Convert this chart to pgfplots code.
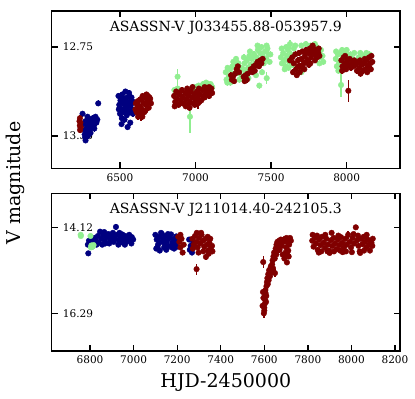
\documentclass[border=0pt]{standalone}
\usepackage{fontspec}
\setmainfont{DejaVu Serif}
\usepackage{pgfplots}
\usepackage{pgfplotstable}
\pgfplotsset{compat=1.18}

\definecolor{cnavy}{RGB}{0,0,128}
\definecolor{cred}{RGB}{128,0,0}
\definecolor{cgreen}{RGB}{144,238,144}

% ---- top panel: ASASSN-V J033455.88-053957.9 ----
\pgfplotstableread{
x y e
6232 13.25 0.02
6234 13.28 0.02
6236 13.31 0.02
6238 13.26 0.02
6240 13.29 0.02
6235 13.23 0.02
6605 13.13 0.02
6610 13.19 0.02
6615 13.16 0.02
6620 13.22 0.02
6625 13.11 0.02
6630 13.15 0.02
6635 13.20 0.02
6640 13.10 0.02
6645 13.17 0.02
6650 13.08 0.02
6655 13.13 0.02
6660 13.19 0.02
6665 13.09 0.02
6670 13.14 0.02
6675 13.07 0.02
6680 13.11 0.02
6685 13.08 0.02
6690 13.12 0.02
6695 13.09 0.02
6700 13.10 0.02
6638 13.21 0.04
6622 13.18 0.02
6612 13.12 0.02
6628 13.21 0.02
6648 13.22 0.02
6668 13.18 0.02
6690 13.16 0.02
6705 13.13 0.02
6602 13.17 0.02
6858 13.08 0.02
6865 13.12 0.02
6872 13.05 0.02
6880 13.10 0.02
6888 13.14 0.02
6895 13.07 0.02
6902 13.11 0.02
6910 13.04 0.02
6918 13.09 0.02
6925 13.13 0.02
6932 13.06 0.02
6940 13.10 0.02
6948 13.14 0.02
6955 13.08 0.02
6962 13.12 0.02
6970 13.05 0.02
6978 13.09 0.02
6985 13.13 0.02
6992 13.07 0.02
7000 13.11 0.02
7008 13.05 0.02
7015 13.09 0.02
7022 13.03 0.02
7030 13.07 0.02
7038 13.11 0.02
7045 13.04 0.02
7052 13.08 0.02
7060 13.02 0.02
7068 13.06 0.02
7075 13.03 0.02
7082 13.07 0.02
7090 13.02 0.02
7098 13.05 0.02
7105 13.03 0.02
6945 13.03 0.02
7016 13.13 0.04
6862 13.15 0.02
6885 13.06 0.02
6915 13.13 0.02
6935 13.15 0.02
6960 13.16 0.02
6995 13.14 0.02
7025 13.12 0.02
7060 13.09 0.02
7090 13.08 0.02
7110 13.06 0.02
6950 13.06 0.02
6980 13.02 0.02
7235 12.94 0.02
7240 12.97 0.02
7248 12.95 0.02
7255 12.98 0.02
7262 12.93 0.02
7272 12.90 0.02
7280 12.88 0.02
7288 12.92 0.02
7318 12.95 0.02
7325 12.98 0.02
7332 12.94 0.02
7340 12.97 0.02
7345 12.93 0.02
7365 12.90 0.02
7375 12.92 0.02
7385 12.88 0.02
7392 12.91 0.02
7400 12.87 0.02
7410 12.85 0.02
7420 12.88 0.02
7428 12.84 0.02
7436 12.86 0.02
7444 12.83 0.02
7625 12.84 0.02
7640 12.82 0.02
7650 12.86 0.02
7660 12.80 0.02
7665 12.90 0.02
7670 12.94 0.02
7678 12.84 0.02
7685 12.79 0.02
7692 12.88 0.02
7700 12.83 0.02
7708 12.78 0.02
7716 12.86 0.02
7724 12.81 0.02
7732 12.77 0.02
7740 12.84 0.02
7748 12.79 0.02
7756 12.76 0.02
7764 12.82 0.02
7772 12.78 0.02
7780 12.76 0.02
7788 12.80 0.02
7796 12.77 0.02
7804 12.82 0.02
7812 12.79 0.02
7820 12.81 0.02
7690 12.92 0.02
7710 12.89 0.02
7750 12.87 0.02
7645 12.92 0.02
7680 12.88 0.02
7720 12.90 0.02
7760 12.86 0.02
7790 12.84 0.02
7815 12.76 0.02
7775 12.74 0.02
7730 12.85 0.02
7965 12.84 0.02
7972 12.88 0.02
7980 12.82 0.02
7988 12.86 0.02
7996 12.90 0.02
8004 12.84 0.02
8012 12.87 0.02
8020 12.83 0.02
8028 12.89 0.02
8036 12.86 0.02
8044 12.88 0.02
8060 12.87 0.02
8068 12.91 0.02
8076 12.85 0.02
8084 12.89 0.02
8092 12.93 0.02
8100 12.87 0.02
8108 12.91 0.02
8116 12.86 0.02
8124 12.90 0.02
8132 12.84 0.02
8140 12.88 0.02
8148 12.82 0.02
8156 12.86 0.02
8164 12.81 0.02
8170 12.85 0.02
7970 12.91 0.02
7990 12.81 0.02
8050 12.84 0.02
8088 12.84 0.02
8120 12.83 0.02
8160 12.90 0.02
8136 12.92 0.02
8011 13.045 0.075
}\topred

\pgfplotstableread{
x y e
6240 13.30 0.02
6266 13.34 0.02
6252 13.20 0.02
6258 13.27 0.02
6270 13.36 0.02
6268 13.31 0.02
6272 13.25 0.02
6278 13.33 0.02
6283 13.29 0.02
6288 13.35 0.02
6293 13.27 0.02
6298 13.31 0.02
6303 13.24 0.02
6308 13.29 0.02
6314 13.26 0.02
6320 13.23 0.02
6326 13.28 0.02
6332 13.25 0.02
6338 13.22 0.02
6344 13.26 0.02
6350 13.24 0.02
6356 13.13 0.02
6272 13.38 0.02
6285 13.22 0.02
6305 13.33 0.02
6330 13.30 0.02
6490 13.08 0.02
6495 13.14 0.02
6500 13.20 0.02
6503 13.11 0.02
6508 13.17 0.02
6512 13.23 0.02
6515 13.07 0.02
6520 13.13 0.02
6524 13.19 0.02
6528 13.10 0.02
6532 13.16 0.02
6536 13.05 0.02
6540 13.12 0.02
6545 13.21 0.02
6548 13.09 0.02
6552 13.15 0.02
6556 13.18 0.02
6560 13.06 0.02
6564 13.12 0.02
6568 13.26 0.02
6572 13.14 0.02
6576 13.09 0.02
6580 13.17 0.02
6585 13.20 0.02
6550 13.29 0.02
6510 13.27 0.02
6530 13.24 0.02
6492 13.17 0.02
6518 13.10 0.02
6542 13.16 0.02
6566 13.19 0.02
6588 13.12 0.02
}\topblue

\pgfplotstableread{
x y e
6881 12.95 0.05
6881 13.03 0.05
6963 13.22 0.11
6860 13.04 0.02
6875 13.06 0.02
6990 13.04 0.02
7020 13.01 0.02
7050 13.00 0.02
7070 12.99 0.02
7085 13.00 0.02
7100 13.00 0.02
7110 13.02 0.02
7040 13.03 0.02
6870 13.12 0.02
6900 13.13 0.02
7000 13.02 0.02
7200 12.92 0.02
7205 12.97 0.02
7212 12.89 0.02
7220 12.95 0.02
7228 12.90 0.02
7236 12.96 0.02
7244 12.88 0.02
7252 12.93 0.02
7260 12.87 0.02
7268 12.83 0.02
7276 12.91 0.02
7284 12.86 0.02
7292 12.93 0.02
7300 12.89 0.02
7308 12.95 0.02
7316 12.90 0.02
7324 12.86 0.02
7332 12.92 0.02
7340 12.84 0.02
7348 12.89 0.02
7356 12.81 0.02
7364 12.87 0.02
7372 12.83 0.02
7380 12.90 0.02
7388 12.80 0.02
7396 12.86 0.02
7404 12.82 0.02
7412 12.77 0.02
7420 12.84 0.02
7428 12.79 0.02
7436 12.75 0.02
7444 12.81 0.02
7452 12.86 0.02
7460 12.78 0.02
7468 12.83 0.02
7476 12.76 0.02
7484 12.80 0.02
7490 12.85 0.02
7422 13.01 0.02
7471 12.96 0.04
7230 12.99 0.02
7290 12.97 0.02
7210 12.99 0.02
7250 12.85 0.02
7320 12.82 0.02
7360 12.78 0.02
7410 12.74 0.02
7440 12.92 0.02
7470 12.74 0.02
7495 12.80 0.02
7350 12.96 0.02
7400 12.94 0.02
7565 12.82 0.02
7572 12.86 0.02
7580 12.79 0.02
7588 12.84 0.02
7596 12.88 0.02
7604 12.81 0.02
7612 12.77 0.02
7620 12.85 0.02
7625 12.73 0.03
7632 12.80 0.02
7640 12.87 0.02
7650 12.76 0.02
7700 12.74 0.02
7760 12.74 0.02
7800 12.75 0.02
7830 12.77 0.02
7840 12.81 0.02
7820 12.86 0.02
7700 12.92 0.02
7570 12.76 0.02
7590 12.90 0.02
7615 12.89 0.02
7660 12.74 0.02
7730 12.73 0.02
7790 12.73 0.02
7845 12.85 0.02
7600 12.75 0.02
7830 12.82 0.02
7928 12.83 0.02
7935 12.88 0.02
7942 12.80 0.02
7950 12.85 0.02
7958 12.79 0.02
7966 12.90 0.02
7975 12.82 0.02
7985 12.78 0.02
7995 12.84 0.02
8005 12.81 0.02
8015 12.86 0.02
8025 12.80 0.02
8040 12.83 0.02
8060 12.85 0.02
8080 12.82 0.02
8100 12.84 0.02
8115 12.81 0.02
7930 12.78 0.02
7945 12.91 0.02
7970 12.77 0.02
8000 12.77 0.02
8050 12.79 0.02
8090 12.79 0.02
8130 12.79 0.02
8150 12.80 0.02
7963 13.006 0.08
}\topgreen

% ---- bottom panel: ASASSN-V J211014.40-242105.3 ----
\pgfplotstableread{
x y e
6757 14.30 0.04
6758 14.33 0.04
6802 14.33 0.04
6806 14.57 0.04
6812 14.60 0.04
6816 14.56 0.04
6804 14.62 0.04
}\botgreen

\pgfplotstableread{
x y e
6790 14.55 0.05
6795 14.45 0.05
6800 14.50 0.05
6805 14.40 0.05
6812 14.48 0.05
6820 14.38 0.05
6828 14.45 0.05
6836 14.33 0.05
6846 14.22 0.05
6852 14.40 0.05
6860 14.30 0.05
6868 14.46 0.05
6876 14.36 0.05
6884 14.28 0.05
6892 14.42 0.05
6900 14.34 0.05
6908 14.48 0.05
6914 14.38 0.05
6919 14.10 0.08
6924 14.30 0.05
6932 14.44 0.05
6940 14.35 0.05
6948 14.29 0.05
6955 14.42 0.05
6962 14.33 0.05
6970 14.47 0.05
6978 14.38 0.05
6985 14.44 0.05
6992 14.36 0.05
6998 14.42 0.05
6792 14.77 0.05
6830 14.55 0.05
6870 14.52 0.05
6950 14.50 0.05
6980 14.30 0.05
6810 14.60 0.05
6840 14.50 0.05
6856 14.55 0.05
6888 14.52 0.05
6905 14.25 0.05
6930 14.55 0.05
6960 14.55 0.05
6990 14.52 0.05
6935 14.25 0.05
6865 14.23 0.05
7100 14.30 0.05
7106 14.42 0.05
7112 14.55 0.05
7118 14.35 0.05
7124 14.48 0.05
7130 14.28 0.05
7136 14.40 0.05
7142 14.52 0.05
7148 14.33 0.05
7154 14.45 0.05
7160 14.58 0.05
7166 14.38 0.05
7172 14.29 0.05
7178 14.50 0.05
7184 14.41 0.05
7190 14.55 0.05
7196 14.34 0.05
7202 14.46 0.05
7110 14.62 0.05
7150 14.68 0.05
7175 14.62 0.05
7104 14.65 0.05
7126 14.25 0.05
7140 14.62 0.05
7158 14.28 0.05
7186 14.65 0.05
7200 14.60 0.05
7120 14.70 0.05
7255 14.42 0.05
7262 14.58 0.05
7268 14.75 0.05
7274 14.50 0.05
7258 14.68 0.05
}\botblue

\pgfplotstableread{
x y e
7205 14.35 0.05
7210 14.48 0.05
7215 14.62 0.05
7220 14.40 0.05
7225 14.75 0.05
7230 14.55 0.05
7215 14.30 0.05
7270 14.40 0.05
7276 14.55 0.05
7282 14.33 0.05
7288 14.48 0.05
7294 14.62 0.05
7300 14.38 0.05
7306 14.52 0.05
7312 14.30 0.05
7318 14.45 0.05
7324 14.60 0.05
7330 14.40 0.05
7336 14.55 0.05
7342 14.70 0.05
7348 14.50 0.05
7354 14.64 0.05
7360 14.58 0.05
7290 14.25 0.05
7310 14.25 0.05
7332 14.86 0.07
7289 15.17 0.14
7345 14.78 0.05
7272 14.65 0.05
7298 14.75 0.05
7320 14.72 0.05
7352 14.40 0.05
7362 14.72 0.05
7340 14.35 0.05
7598 16.29 0.12
7600 16.15 0.06
7602 16.05 0.06
7604 15.95 0.06
7603 15.85 0.06
7606 15.78 0.06
7605 15.70 0.06
7595 14.99 0.15
7610 15.60 0.06
7612 15.50 0.06
7614 15.40 0.06
7618 15.30 0.06
7622 15.20 0.06
7626 15.35 0.06
7630 15.10 0.06
7634 15.25 0.06
7638 14.95 0.06
7642 14.85 0.06
7645 14.75 0.06
7649 15.27 0.10
7652 14.65 0.05
7656 14.55 0.05
7660 14.48 0.05
7664 14.62 0.05
7668 14.45 0.05
7672 14.55 0.05
7676 14.42 0.05
7680 14.58 0.05
7684 14.80 0.05
7688 14.48 0.05
7692 14.90 0.05
7696 14.40 0.05
7700 14.62 0.05
7704 15.00 0.05
7708 14.50 0.05
7712 14.85 0.05
7716 14.40 0.05
7718 14.38 0.05
7690 14.42 0.05
7700 14.44 0.05
7710 14.70 0.05
7592 16.10 0.06
7596 15.90 0.06
7608 16.00 0.06
7594 15.75 0.06
7609 15.85 0.06
7600 16.22 0.06
7616 15.55 0.06
7620 15.45 0.06
7628 15.15 0.06
7636 15.05 0.06
7640 15.15 0.06
7648 14.90 0.06
7655 14.80 0.05
7662 14.70 0.05
7670 14.68 0.05
7698 14.75 0.05
7706 14.80 0.05
7714 14.55 0.05
7702 14.38 0.05
7722 14.45 0.05
7820 14.45 0.05
7826 14.60 0.05
7832 14.38 0.05
7838 14.52 0.05
7845 14.68 0.05
7852 14.42 0.05
7858 14.56 0.05
7865 14.35 0.05
7872 14.50 0.05
7878 14.63 0.05
7885 14.40 0.05
7892 14.55 0.05
7898 14.70 0.05
7905 14.44 0.05
7909 14.25 0.05
7912 14.58 0.05
7918 14.38 0.05
7925 14.52 0.05
7932 14.66 0.05
7938 14.42 0.05
7945 14.56 0.05
7952 14.36 0.05
7958 14.50 0.05
7965 14.62 0.05
7972 14.40 0.05
7978 14.55 0.05
7985 14.30 0.10
7992 14.48 0.05
7998 14.62 0.05
8005 14.38 0.05
8012 14.52 0.05
8020 14.11 0.05
8026 14.44 0.05
8032 14.58 0.05
8038 14.72 0.05
8044 14.40 0.05
8050 14.54 0.05
8056 14.35 0.05
8062 14.48 0.05
8068 14.62 0.05
8074 14.42 0.05
8080 14.56 0.05
8086 14.45 0.05
8092 14.50 0.05
8096 14.58 0.05
7850 14.75 0.05
7900 14.76 0.05
7960 14.74 0.05
8040 14.76 0.05
8070 14.30 0.05
7940 14.32 0.05
7880 14.30 0.05
7822 14.30 0.05
7842 14.32 0.05
7862 14.72 0.05
7890 14.72 0.05
7920 14.72 0.05
7948 14.70 0.05
7975 14.72 0.05
8002 14.74 0.05
8030 14.32 0.05
8058 14.70 0.05
8085 14.70 0.05
8098 14.40 0.05
8010 14.28 0.05
}\botred

\pgfplotsset{
  lc/.style={width=348.3bp, scale only axis, y dir=reverse,
    axis line style={line width=1.3bp},
    tick align=inside, major tick length=6bp,
    every tick/.style={black, line width=1.3bp},
    tick label style={font=\fontsize{10.5bp}{12bp}\selectfont, inner sep=0pt},
    /pgf/number format/assume math mode=true,
    /pgf/number format/1000 sep={}, scaled x ticks=false,
    yticklabel style={anchor=west, xshift=11bp},
    xticklabel style={anchor=north, yshift=-5bp},
    title style={at={(axis description cs:0.5,1)}, anchor=north, inner sep=0pt,
      yshift=-16bp, font=\fontsize{14bp}{16bp}\selectfont},
  },
  pts/.style={only marks, mark=*, mark size=2.8bp, color=#1,
    error bars/.cd, y dir=both, y explicit, error mark=none,
    error bar style={line width=1.4bp, color=#1}},
}

\begin{document}
\begin{tikzpicture}
\path[use as bounding box] (0,0) rectangle (415bp,399bp);

\begin{axis}[lc, at={(51.7bp,230.7bp)}, anchor=south west, height=157.3bp,
  title={ASASSN-V J033455.88-053957.9},
  xmin=6048, xmax=8353, ymin=12.507, ymax=13.568,
  xtick={6500,7000,7500,8000},
  ytick={12.75,13.35}, yticklabels={12.75,13.35}]
  \addplot[pts=cnavy] table[x=x, y=y, y error=e] {\topblue};
  \addplot[pts=cgreen] table[x=x, y=y, y error=e] {\topgreen};
  \addplot[pts=cred] table[x=x, y=y, y error=e] {\topred};
\end{axis}

\begin{axis}[lc, at={(51.7bp,48bp)}, anchor=south west, height=157.7bp,
  title={ASASSN-V J211014.40-242105.3},
  xmin=6624, xmax=8223, ymin=13.248, ymax=17.245,
  xtick={6800,7000,7200,7400,7600,7800,8000,8200},
  ytick={14.12,16.29}, yticklabels={14.12,16.29},
  xlabel={HJD-2450000},
  xlabel style={at={(axis description cs:0.5,0)}, anchor=base, yshift=-36bp,
    font=\fontsize{19bp}{22bp}\selectfont}]
  \addplot[pts=cnavy] table[x=x, y=y, y error=e] {\botblue};
  \addplot[pts=cgreen] table[x=x, y=y, y error=e] {\botgreen};
  \addplot[pts=cred] table[x=x, y=y, y error=e] {\botred};
\end{axis}

\node[rotate=90, font=\fontsize{19bp}{22bp}\selectfont] at (15.5bp,216bp) {V magnitude};
\end{tikzpicture}
\end{document}
